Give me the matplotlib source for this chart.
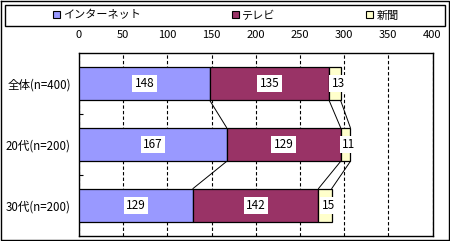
import matplotlib
matplotlib.use("Agg")
import matplotlib.pyplot as plt
from matplotlib.patches import Rectangle, Patch
from matplotlib.lines import Line2D
import numpy as np

plt.rcParams['font.family'] = ['Noto Sans CJK JP', 'DejaVu Sans']

categories = ["全体(n=400)", "20代(n=200)", "30代(n=200)"]
series_names = ["インターネット", "テレビ", "新聞"]
internet = [148, 167, 129]
tv = [135, 129, 142]
newspaper = [13, 11, 15]
colors = ["#9999FF", "#993366", "#FFFFCC"]
xticks = [0, 50, 100, 150, 200, 250, 300, 350, 400]

W, H = 450, 241
fig = plt.figure(figsize=(W / 100, H / 100), dpi=100)
fig.patch.set_facecolor("white")

ax = fig.add_axes([79 / W, 1 - 236 / H, (432.5 - 79) / W, (236 - 53) / H])

data = [internet, tv, newspaper]
y = np.arange(len(categories))
bar_h = 1 / 1.8
left = np.zeros(len(categories))
handles = []
for k, (vals, col, name) in enumerate(zip(data, colors, series_names)):
    vals = np.array(vals, dtype=float)
    ax.barh(y, vals, left=left, height=bar_h, color=col, edgecolor="black",
            linewidth=0.9, zorder=3, label=name)
    handles.append(Patch(facecolor=col, edgecolor="black", linewidth=0.8, label=name))
    for yi, l, v in zip(y, left, vals):
        xc = l + v / 2
        if k == 2:
            xc = l + v / 2 + 4
        ax.text(xc, yi, f"{int(v)}", ha="center", va="center", fontsize=8.5,
                zorder=5, bbox=dict(boxstyle="square,pad=0.2", fc="white", ec="none"))
    left = left + vals

# series lines
cum = np.cumsum(np.array(data), axis=0)
for i in range(len(categories) - 1):
    for s in range(cum.shape[0]):
        ax.plot([cum[s, i], cum[s, i + 1]], [y[i] + bar_h / 2, y[i + 1] - bar_h / 2],
                color="black", linewidth=0.7, zorder=2)

ax.set_xlim(0, 400)
ax.set_ylim(len(categories) - 0.5, -0.5)
ax.set_xticks(xticks)
ax.xaxis.tick_top()
ax.tick_params(axis="x", length=0, pad=9, labelsize=8)
ax.set_yticks(y)
ax.set_yticklabels(categories)
ax.tick_params(axis="y", which="major", length=0, pad=6, labelsize=8.3)
ax.set_yticks([0.5, 1.5], minor=True)
ax.tick_params(axis="y", which="minor", direction="in", length=3, width=0.8)
ax.grid(axis="x", color="black", linestyle=(0, (3, 2)), linewidth=0.8, zorder=1)
for sp in ax.spines.values():
    sp.set_linewidth(1)
    sp.set_color("black")

# legend box
fig.patches.append(Rectangle((5 / W, 1 - 26 / H), 440 / W, 21 / H, transform=fig.transFigure,
                             fill=False, edgecolor="black", linewidth=1))
fig.legend(handles=handles, loc="center left", bbox_to_anchor=(53 / W, 1 - 15.5 / H),
           ncol=3, frameon=False, fontsize=8, handlelength=0.6, handleheight=0.6,
           handletextpad=0.3, columnspacing=8.2, borderpad=0, borderaxespad=0)

# figure border
fig.lines.append(Line2D([0.5 / W, 0.5 / W, 448.5 / W, 448.5 / W, 0.5 / W],
                        [1 - 0.5 / H, 1 - 239.5 / H, 1 - 239.5 / H, 1 - 0.5 / H, 1 - 0.5 / H],
                        transform=fig.transFigure, color="black", linewidth=1))

fig.savefig("out.png", dpi=100)
